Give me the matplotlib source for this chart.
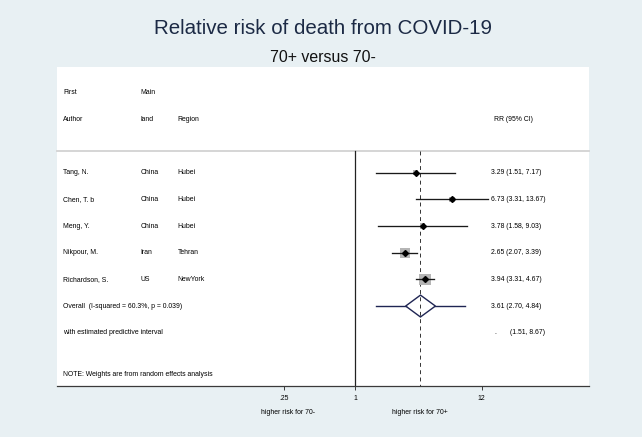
import matplotlib
matplotlib.use("Agg")
import matplotlib.pyplot as plt
import matplotlib.transforms as mtransforms
from matplotlib.patches import Polygon
import numpy as np

# ---- data ----
authors = ["Tang, N.", "Chen, T. b", "Meng, Y.", "Nikpour, M.", "Richardson, S."]
land = ["China", "China", "China", "Iran", "US"]
region = ["Hubei", "Hubei", "Hubei", "Tehran", "NewYork"]
rr = [3.29, 6.73, 3.78, 2.65, 3.94]
rr_lo = [1.51, 3.31, 1.58, 2.07, 3.31]
rr_hi = [7.17, 13.67, 9.03, 3.39, 4.67]
weights = [7, 10, 9, 30, 44]  # estimated from square sizes
overall = 3.61
overall_lo, overall_hi = 2.70, 4.84
pred_lo, pred_hi = 1.51, 8.67
i_squared = 60.3
p_het = 0.039
xticks = [0.25, 1, 12]
xtick_labels = [".25", "1", "12"]

# ---- style ----
BG = "#e8f0f3"
NAVY = "#1f2553"
FONT = "Liberation Sans"
FS = 4.95
plt.rcParams["font.family"] = [FONT, "DejaVu Sans"]

W, H = 642, 437
fig = plt.figure(figsize=(W / 100, H / 100), dpi=100, facecolor=BG)

left_px, right_px, top_px, bot_px = 56.7, 589.0, 67.0, 386.0
row_h = 26.67
row1_px = 172.7
ax = fig.add_axes([left_px / W, 1 - bot_px / H, (right_px - left_px) / W, (bot_px - top_px) / H])
ax.set_facecolor("white")
ax.set_xscale("log")
ax.set_xlim(0.00288, 98.4)
ax.set_ylim(1 + (bot_px - row1_px) / row_h, 1 + (top_px - row1_px) / row_h)
for s in ["top", "left", "right"]:
    ax.spines[s].set_visible(False)
ax.spines["bottom"].set_color("#3a3a3a")
ax.spines["bottom"].set_linewidth(0.9)
ax.set_yticks([])
ax.set_xticks(xticks)
ax.set_xticklabels(xtick_labels)
ax.minorticks_off()
ax.tick_params(axis="x", length=3, width=0.7, color="#3a3a3a", labelsize=FS, pad=3.5)

ybot = ax.get_ylim()[0]
blend = mtransforms.blended_transform_factory(ax.transAxes, ax.transData)
blend_x = mtransforms.blended_transform_factory(ax.transData, ax.transAxes)

# titles
fig.text(0.503, 1 - 28 / H, "Relative risk of death from COVID-19", ha="center", va="center",
         fontsize=14.8, color="#1c2a45")
fig.text(0.503, 1 - 58 / H, "70+ versus 70-", ha="center", va="center", fontsize=11.4, color="#111111")

# header
col_author, col_land, col_region, col_rr = 0.0124, 0.1574, 0.2273, 0.816
ax.text(col_author, -2, "First", transform=blend, fontsize=FS, va="center")
ax.text(col_land, -2, "Main", transform=blend, fontsize=FS, va="center")
ax.text(col_author, -1, "Author", transform=blend, fontsize=FS, va="center")
ax.text(col_land, -1, "land", transform=blend, fontsize=FS, va="center")
ax.text(col_region, -1, "Region", transform=blend, fontsize=FS, va="center")
ax.text(0.8215, -1, "RR (95% CI)", transform=blend, fontsize=FS, va="center")

# separator line
sep_y = 0.17
ax.plot([0, 1], [sep_y, sep_y], transform=blend, color="#d2d2d2", lw=1.3, clip_on=False, zorder=1)

# reference lines
ax.plot([1, 1], [sep_y, ybot], color="#222222", lw=0.9, zorder=2)
ax.plot([overall, overall], [sep_y, ybot], color="#333333", lw=0.7, ls=(0, (4, 3.5)), zorder=2)

# studies
rows = np.arange(1, len(authors) + 1)
for r, a, l, g, e, lo, hi, w in zip(rows, authors, land, region, rr, rr_lo, rr_hi, weights):
    side_px = 1.764 * np.sqrt(w)
    ax.scatter([e], [r], marker="s", s=(side_px * 0.72) ** 2, color="#b5b5b5", edgecolors="none", zorder=3)
    ax.plot([lo, hi], [r, r], color="#1a1a1a", lw=0.95, zorder=4)
    ax.plot([e], [r], marker="D", ms=3.0, color="black", zorder=5)
    ax.text(col_author, r, a, transform=blend, fontsize=FS, va="center")
    ax.text(col_land, r, l, transform=blend, fontsize=FS, va="center")
    ax.text(col_region, r, g, transform=blend, fontsize=FS, va="center")
    ax.text(col_rr, r, f"{e:.2f} ({lo:.2f}, {hi:.2f})", transform=blend, fontsize=FS, va="center")

# overall
ro = len(authors) + 1
dh = 0.41
diamond = Polygon([(overall_lo, ro), (overall, ro - dh), (overall_hi, ro), (overall, ro + dh)],
                  closed=True, facecolor="none", edgecolor=NAVY, lw=1.0, zorder=5)
ax.add_patch(diamond)
ax.plot([pred_lo, overall_lo], [ro, ro], color=NAVY, lw=1.0, zorder=4)
ax.plot([overall_hi, pred_hi], [ro, ro], color=NAVY, lw=1.0, zorder=4)
ax.text(col_author, ro, f"Overall  (I-squared = {i_squared:.1f}%, p = {p_het:.3f})", transform=blend,
        fontsize=FS, va="center")
ax.text(col_rr, ro, f"{overall:.2f} ({overall_lo:.2f}, {overall_hi:.2f})", transform=blend,
        fontsize=FS, va="center")

rp = ro + 1
ax.text(col_author, rp, "with estimated predictive interval", transform=blend, fontsize=FS, va="center")
ax.text(0.823, rp, ".", transform=blend, fontsize=FS, va="center")
ax.text(0.851, rp, f"({pred_lo:.2f}, {pred_hi:.2f})", transform=blend, fontsize=FS, va="center")

ax.text(col_author, 8.55, "NOTE: Weights are from random effects analysis", transform=blend,
        fontsize=FS, va="center")

# favours labels
fav_y = (386 - 412.7) / (bot_px - top_px)
ax.text(0.268, fav_y, "higher risk for 70-", transform=blend_x, fontsize=FS, ha="center", va="center")
ax.text(3.58, fav_y, "higher risk for 70+", transform=blend_x, fontsize=FS, ha="center", va="center")

fig.savefig("out.png", dpi=100, facecolor=BG)
